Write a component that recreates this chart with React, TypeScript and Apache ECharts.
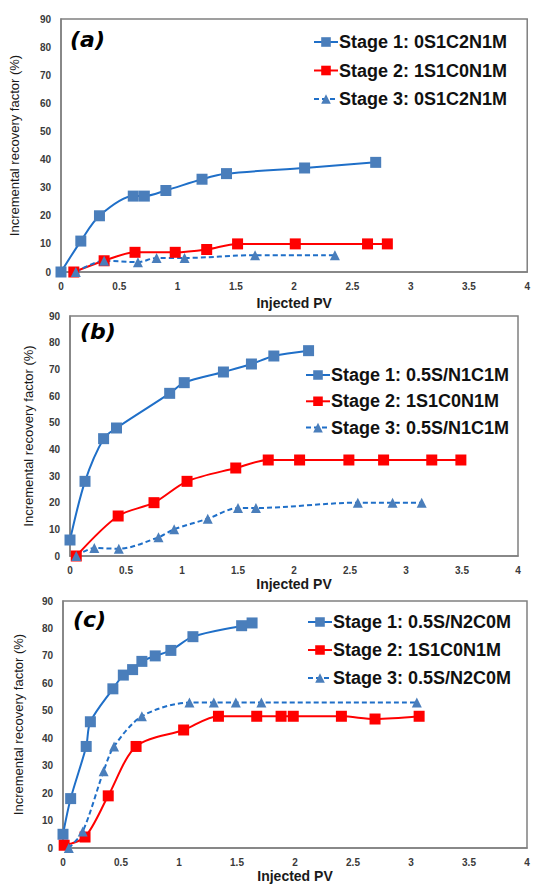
import React, { useEffect, useRef } from "react";
import * as echarts from "echarts";

// ---------- data ----------
const xTicks = [0, 0.5, 1, 1.5, 2, 2.5, 3, 3.5, 4];
const yTicks = [0, 10, 20, 30, 40, 50, 60, 70, 80, 90];

const panelLabels = ["(a)", "(b)", "(c)"];
const xTitle = "Injected PV";
const yTitle = "Incremental recovery factor (%)";

const aNames = ["Stage 1: 0S1C2N1M", "Stage 2: 1S1C0N1M", "Stage 3: 0S1C2N1M"];
const aS1X = [0, 0.17, 0.33, 0.62, 0.715, 0.9, 1.21, 1.42, 2.09, 2.7];
const aS1Y = [0, 11, 20, 27, 27, 29, 33, 35, 37, 39];
const aS2X = [0.11, 0.37, 0.635, 0.98, 1.25, 1.515, 2.01, 2.63, 2.8];
const aS2Y = [0, 4, 7, 7, 8, 10, 10, 10, 10];
const aS3X = [0.127, 0.37, 0.66, 0.82, 1.06, 1.665, 2.35];
const aS3Y = [0, 4, 3.5, 5, 5, 6, 6];

const bNames = ["Stage 1: 0.5S/N1C1M", "Stage 2: 1S1C0N1M", "Stage 3: 0.5S/N1C1M"];
const bS1X = [0, 0.134, 0.3, 0.415, 0.89, 1.02, 1.37, 1.62, 1.82, 2.13];
const bS1Y = [6, 28, 44, 48, 61, 65, 69, 72, 75, 77];
const bS2X = [0.056, 0.43, 0.75, 1.045, 1.48, 1.77, 2.05, 2.49, 2.8, 3.23, 3.49];
const bS2Y = [0, 15, 20, 28, 33, 36, 36, 36, 36, 36, 36];
const bS3X = [0.056, 0.217, 0.436, 0.79, 0.93, 1.23, 1.5, 1.66, 2.57, 2.88, 3.14];
const bS3Y = [0, 3, 2.7, 7, 10, 14, 18, 18, 20, 20, 20];

const cNames = ["Stage 1: 0.5S/N2C0M", "Stage 2: 1S1C0N1M", "Stage 3: 0.5S/N2C0M"];
const cS1X = [0, 0.066, 0.2, 0.236, 0.43, 0.52, 0.6, 0.68, 0.795, 0.93, 1.12, 1.54, 1.63];
const cS1Y = [5, 18, 37, 46, 58, 63, 65, 68, 70, 72, 77, 81, 82];
const cS2X = [0.01, 0.19, 0.39, 0.63, 1.04, 1.34, 1.67, 1.88, 1.985, 2.4, 2.69, 3.07];
const cS2Y = [1, 4, 19, 37, 43, 48, 48, 48, 48, 48, 47, 48];
const cS3X = [0.05, 0.17, 0.35, 0.44, 0.68, 1.09, 1.3, 1.49, 1.71, 3.05];
const cS3Y = [0, 6, 28, 37, 48, 53, 53, 53, 53, 53];

// ---------- layout / style ----------
const zip = (xs: number[], ys: number[]) => xs.map((x, i) => [x, ys[i]]);

const grids = [
  { left: 59, top: 19, width: 473, height: 253 },
  { left: 70, top: 316, width: 448, height: 240 },
  { left: 63, top: 601, width: 464, height: 247 },
];
const yNameGaps = [40, 35, 38];
const xNameGaps = [24, 21, 21];
const legendPos = [
  { left: 308, top: 27, gap: 8.5 },
  { left: 300, top: 360, gap: 6.3 },
  { left: 302, top: 607, gap: 8 },
];
const labelPos = [
  { x: 70, y: 41 },
  { x: 80, y: 333 },
  { x: 73, y: 621 },
];

const BLUE_LINE = "#1f6fc8";
const BLUE_MARK = "#4a7ebb";
const RED = "#ff0000";
const AXIS = "#808080";

export default function App() {
  const ref = useRef<HTMLDivElement>(null);
  useEffect(() => {
    document.body.style.margin = "0";
    if (!ref.current) return;
    const chart = echarts.init(ref.current, null, { renderer: "svg" });

    const panels = [
      { names: aNames, s: [zip(aS1X, aS1Y), zip(aS2X, aS2Y), zip(aS3X, aS3Y)] },
      { names: bNames, s: [zip(bS1X, bS1Y), zip(bS2X, bS2Y), zip(bS3X, bS3Y)] },
      { names: cNames, s: [zip(cS1X, cS1Y), zip(cS2X, cS2Y), zip(cS3X, cS3Y)] },
    ];

    const series: any[] = [];
    panels.forEach((p, i) => {
      series.push({
        type: "line",
        name: p.names[0],
        xAxisIndex: i,
        yAxisIndex: i,
        data: p.s[0],
        smooth: 0.3,
        symbol: "rect",
        symbolSize: 11,
        itemStyle: { color: BLUE_MARK },
        lineStyle: { color: BLUE_LINE, width: 2 },
      });
      series.push({
        type: "line",
        name: p.names[1],
        xAxisIndex: i,
        yAxisIndex: i,
        data: p.s[1],
        smooth: 0.3,
        symbol: "rect",
        symbolSize: 11,
        itemStyle: { color: RED },
        lineStyle: { color: RED, width: 2 },
      });
      series.push({
        type: "line",
        name: p.names[2],
        xAxisIndex: i,
        yAxisIndex: i,
        data: p.s[2],
        smooth: 0.3,
        symbol: "triangle",
        symbolSize: 10,
        itemStyle: { color: BLUE_MARK },
        lineStyle: { color: BLUE_LINE, width: 2, type: [5, 3] },
      });
    });

    const tickLabel = {
      fontSize: 10,
      fontWeight: "bold",
      color: "#3a3a3a",
      fontFamily: "Liberation Sans, Arial, sans-serif",
    };

    const option: any = {
      animation: false,
      backgroundColor: "#ffffff",
      grid: grids.map((g) => ({
        ...g,
        show: true,
        borderColor: AXIS,
        borderWidth: 1.5,
        backgroundColor: "transparent",
      })),
      xAxis: grids.map((_, i) => ({
        type: "value",
        gridIndex: i,
        min: xTicks[0],
        max: xTicks[xTicks.length - 1],
        interval: 0.5,
        name: xTitle,
        nameLocation: "middle",
        nameGap: xNameGaps[i],
        nameTextStyle: {
          fontSize: 14,
          fontWeight: "bold",
          color: "#1a1a1a",
          fontFamily: "Liberation Sans, Arial, sans-serif",
        },
        axisLine: { show: true, lineStyle: { color: AXIS, width: 1.5 } },
        axisTick: { show: false },
        splitLine: { show: false },
        axisLabel: { ...tickLabel, margin: 9, formatter: (v: number) => String(v) },
      })),
      yAxis: grids.map((_, i) => ({
        type: "value",
        gridIndex: i,
        min: yTicks[0],
        max: yTicks[yTicks.length - 1],
        interval: 10,
        name: yTitle,
        nameLocation: "middle",
        nameGap: yNameGaps[i],
        nameTextStyle: {
          fontSize: 13,
          color: "#1a1a1a",
          fontFamily: "Liberation Sans Narrow, Arial Narrow, Liberation Sans, sans-serif",
        },
        axisLine: { show: true, lineStyle: { color: AXIS, width: 1.5 } },
        axisTick: { show: false },
        splitLine: { show: false },
        axisLabel: { ...tickLabel, margin: 10 },
      })),
      legend: panels.map((p, i) => ({
        data: p.names,
        orient: "vertical",
        left: legendPos[i].left,
        top: legendPos[i].top,
        itemGap: legendPos[i].gap,
        itemWidth: 24,
        itemHeight: 12,
        selectedMode: false,
        textStyle: {
          fontSize: 18,
          fontWeight: "bold",
          color: "#111",
          lineHeight: 20,
          fontFamily: "Liberation Sans, Arial, sans-serif",
          padding: [0, 0, 0, -4],
        },
      })),
      graphic: panelLabels.map((t, i) => ({
        type: "text",
        left: labelPos[i].x,
        top: labelPos[i].y - 13,
        style: {
          text: t,
          fontSize: 22,
          fontWeight: "bold",
          fontStyle: "italic",
          fill: "#000",
          fontFamily: "DejaVu Sans, sans-serif",
        },
      })),
      series,
    };

    chart.setOption(option);
    return () => chart.dispose();
  }, []);

  return <div ref={ref} style={{ width: 533, height: 884 }} />;
}
